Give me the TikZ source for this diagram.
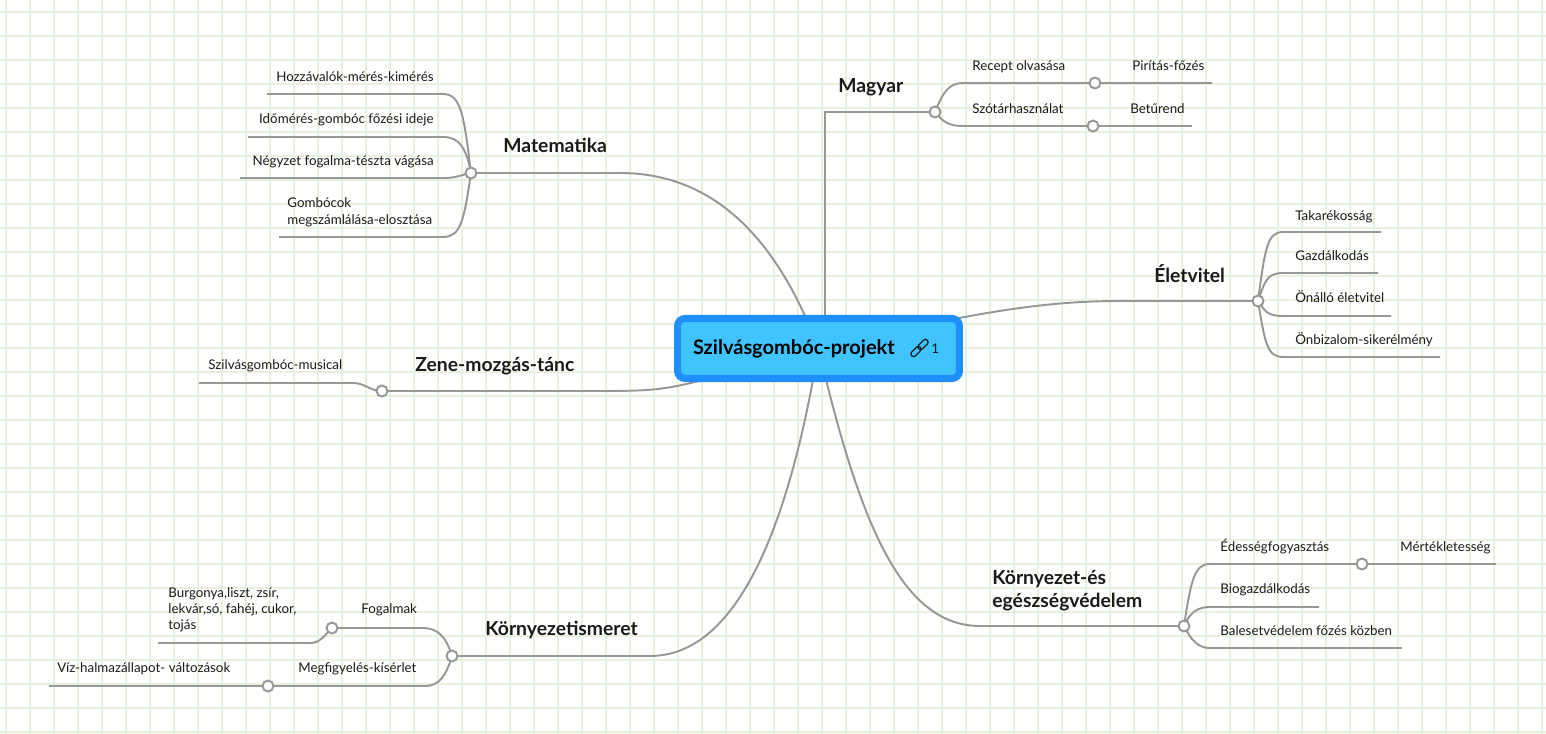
\documentclass[tikz,border=0pt]{standalone}
\usepackage{fontspec}
\setmainfont{Lato}
\usetikzlibrary{backgrounds, positioning}
\definecolor{mapGrid}{HTML}{E8F1DF}
\definecolor{mapLine}{HTML}{979797}
\definecolor{mapBlue}{HTML}{1F8FFF}
\definecolor{mapSky}{HTML}{40C4FF}
\definecolor{mapText}{HTML}{1A1A1A}
\tikzset{
  rootbox/.style = {rectangle, rounded corners=0.15cm, draw=mapBlue,
                    line width=4pt, fill=mapSky, minimum width=5.64cm,
                    minimum height=1.2cm, text width=5.02cm, inner xsep=0.31cm,
                    align=left, font=\fontsize{11.4}{13}\selectfont\bfseries},
  topic/.style   = {font=\fontsize{11}{12.5}\selectfont\bfseries,
                    text=mapText, inner sep=0pt, align=left},
  leaf/.style    = {font=\fontsize{7.6}{9.4}\selectfont, text=mapText,
                    inner sep=0pt, align=left},
  knot/.style    = {circle, draw=mapLine, fill=white, line width=1.1pt,
                    minimum size=0.22cm, inner sep=0pt},
  branch/.style  = {draw=mapLine, line width=1.1pt},
  gridline/.style= {draw=mapGrid, line width=0.8pt},
}

\begin{document}
\begin{tikzpicture}[x=0.02cm, y=-0.02cm,
  linkicon/.style={draw=mapText, line width=0.7pt, rounded corners=0.05cm},
]
\useasboundingbox (0,0) rectangle (1546,734);

% Root
\node[rootbox] (c) at (818.5,348.5) {Szilvásgombóc-projekt};
\node[leaf, anchor=base west, font=\fontsize{7.6}{9}\selectfont] (lk) at (931,353) {1};
\begin{scope}[rotate around={45:(919.5,348)}]
  \draw[linkicon] (908.5,345.3) rectangle (920.5,350.7);
  \draw[linkicon] (918.5,345.3) rectangle (930.5,350.7);
\end{scope}

% Main topics
\node[topic, anchor=base west] (tm) at (503,152)  {Matematika};
\node[topic, anchor=base west] (tg) at (838,92)   {Magyar};
\node[topic, anchor=base west] (te) at (1154,282) {Életvitel};
\node[topic, anchor=base west] (tz) at (415,371)  {Zene-mozgás-tánc};
\node[topic, anchor=base west] (tk) at (485,635)  {Környezetismeret};
\node[topic, anchor=base west, font=\fontsize{11}{12.6}\selectfont\bfseries] (th) at (992,607) {Környezet-és\\egészségvédelem};

% Knots
\node[knot] (mc) at (471,173)  {};
\node[knot] (mg) at (935,112)  {};
\node[knot] (rk) at (1095,83)  {};
\node[knot] (sk) at (1093,126) {};
\node[knot] (ev) at (1258,301) {};
\node[knot] (zn) at (382,391)  {};
\node[knot] (ki) at (452,656)  {};
\node[knot] (fg) at (332,628)  {};
\node[knot] (mf) at (268,686)  {};
\node[knot] (ke) at (1184,626) {};
\node[knot] (mt) at (1362,564) {};

% Leaves
\node[leaf, anchor=base east] (hz) at (434,81)  {Hozzávalók-mérés-kimérés};
\node[leaf, anchor=base east] (id) at (434,123) {Időmérés-gombóc főzési ideje};
\node[leaf, anchor=base east] (ng) at (434,165) {Négyzet fogalma-tészta vágása};
\node[leaf, anchor=base west] (gb) at (287,224) {Gombócok\\megszámlálása-elosztása};
\node[leaf, anchor=base west] (ro) at (972,70)   {Recept olvasása};
\node[leaf, anchor=base west] (pf) at (1132,70)  {Pirítás-főzés};
\node[leaf, anchor=base west] (sh) at (972,113)  {Szótárhasználat};
\node[leaf, anchor=base west] (br) at (1130,113) {Betűrend};
\node[leaf, anchor=base west] (tk1) at (1295,220) {Takarékosság};
\node[leaf, anchor=base west] (gz) at (1295,260) {Gazdálkodás};
\node[leaf, anchor=base west] (oe) at (1295,302) {Önálló életvitel};
\node[leaf, anchor=base west] (os) at (1295,344) {Önbizalom-sikerélmény};
\node[leaf, anchor=base west] (sm) at (208,369)  {Szilvásgombóc-musical};
\node[leaf, anchor=base west] (fo) at (361,613)  {Fogalmak};
\node[leaf, anchor=base west, font=\fontsize{7.6}{8.9}\selectfont] (bu) at (168,629) {Burgonya,liszt, zsír,\\lekvár,só, fahéj, cukor,\\tojás};
\node[leaf, anchor=base west] (mk) at (298,672)  {Megfigyelés-kísérlet};
\node[leaf, anchor=base west] (vh) at (57,672)   {Víz-halmazállapot- változások};
\node[leaf, anchor=base west] (eg) at (1220,551) {Édességfogyasztás};
\node[leaf, anchor=base west] (ml) at (1400,551) {Mértékletesség};
\node[leaf, anchor=base west] (bg) at (1220,593) {Biogazdálkodás};
\node[leaf, anchor=base west] (bv) at (1220,635) {Balesetvédelem főzés közben};

% Line ends
\coordinate (hzL) at (267,94);
\coordinate (idL) at (248,137);
\coordinate (ngL) at (240,178);
\coordinate (gbL) at (279,237);
\coordinate (pfR) at (1212,83);
\coordinate (brR) at (1192,126);
\coordinate (tkR) at (1381,232);
\coordinate (gzR) at (1378,273);
\coordinate (oeR) at (1391,316);
\coordinate (osR) at (1440,357);
\coordinate (smL) at (199,383);
\coordinate (buL) at (158,643);
\coordinate (vhL) at (49,686);
\coordinate (mlR) at (1496,564);
\coordinate (bgR) at (1319,607);
\coordinate (bvR) at (1402,648);

\begin{scope}[on background layer]
  \fill[white] (0,0) rectangle (1546,734);
  % Grid
  \foreach \gx in {6,30,...,1542}
    \draw[gridline] (\gx,0) -- (\gx,734);
  \foreach \gy in {12,36,...,732}
    \draw[gridline] (0,\gy) -- (1546,\gy);

  % Root to main topics
  \draw[branch] (c.center) .. controls +(-48,-128) and +(80,0) .. (620,173) -- (mc.center);
  \draw[branch] (c.center) ++(6.5,0) |- (mg.center);
  \draw[branch] (c.center) .. controls +(150,-35) and +(-80,0) .. (1120,301) -- (ev.center);
  \draw[branch] (c.center) .. controls +(-150,40) and +(80,0) .. (600,391) -- (zn.center);
  \draw[branch] (c.center) .. controls +(-28,170) and +(90,0) .. (650,656) -- (ki.center);
  \draw[branch] (c.center) .. controls +(40,170) and +(-80,0) .. (980,626) -- (ke.center);

  % Matematika
  \draw[branch] (mc.center) .. controls +(-7,-58) and +(18,0) .. (443,94) -- (hzL);
  \draw[branch] (mc.center) .. controls +(-5,-26) and +(16,0) .. (443,137) -- (idL);
  \draw[branch] (mc.center) .. controls +(-10,2) and +(10,0) .. (445,178) -- (ngL);
  \draw[branch] (mc.center) .. controls +(-7,47) and +(18,0) .. (443,237) -- (gbL);

  % Magyar
  \draw[branch] (mg.center) .. controls +(8,-20) and +(-14,0) .. (963,83) -- (rk.center) -- (pfR);
  \draw[branch] (mg.center) .. controls +(8,10) and +(-14,0) .. (963,126) -- (sk.center) -- (brR);

  % Eletvitel
  \foreach \ly/\dy/\tip in {232/-52/tkR, 273/-20/gzR, 316/10/oeR, 357/42/osR}
    \draw[branch] (ev.center) .. controls +(7,\dy) and +(-16,0) .. (1283,\ly) -- (\tip);

  % Zene
  \draw[branch] (zn.center) .. controls +(-12,0) and +(12,0) .. (353,383) -- (smL);

  % Kornyezetismeret
  \draw[branch] (ki.center) .. controls +(-6,-20) and +(14,0) .. (423,628) -- (fg.center)
    .. controls +(-8,8) and +(10,0) .. (310,643) -- (buL);
  \draw[branch] (ki.center) .. controls +(-6,20) and +(14,0) .. (425,686) -- (mf.center) -- (vhL);

  % Kornyezet- es egeszsegvedelem
  \draw[branch] (ke.center) .. controls +(7,-45) and +(-16,0) .. (1210,564) -- (mt.center) -- (mlR);
  \draw[branch] (ke.center) .. controls +(6,-14) and +(-12,0) .. (1210,607) -- (bgR);
  \draw[branch] (ke.center) .. controls +(7,14) and +(-12,0) .. (1210,648) -- (bvR);
\end{scope}

\end{tikzpicture}
\end{document}
